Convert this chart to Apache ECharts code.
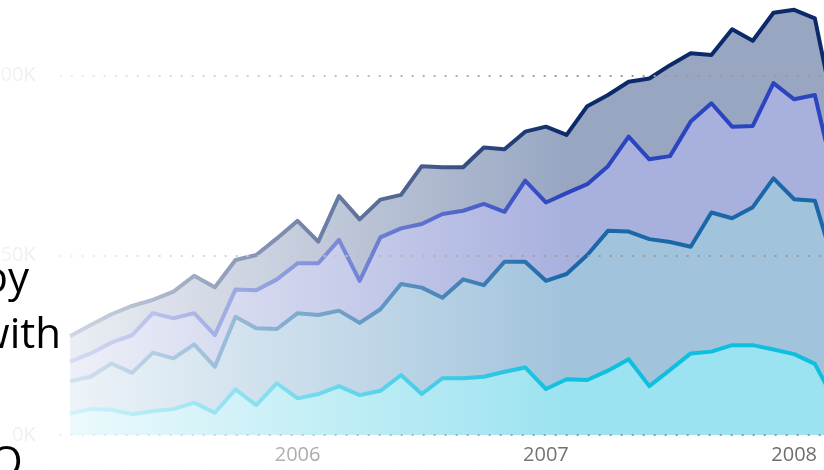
<!DOCTYPE html>
<html>
<head>
<meta charset="utf-8">
<script src="https://cdn.jsdelivr.net/npm/echarts@6/dist/echarts.min.js"></script>
<style>
  html, body { margin: 0; padding: 0; overflow: hidden; background: #fff; }
  #chart { position: absolute; left: 0; top: -110px; width: 900px; height: 600px; }
</style>
</head>
<body>
<div id="chart"></div>
<script>
// months, one point each (Feb 2005 .. Mar 2008)
const months = [
  '2005-02', '2005-03', '2005-04', '2005-05', '2005-06', '2005-07', '2005-08', '2005-09', '2005-10', '2005-11', '2005-12',
  '2006-01', '2006-02', '2006-03', '2006-04', '2006-05', '2006-06', '2006-07', '2006-08', '2006-09', '2006-10', '2006-11', '2006-12',
  '2007-01', '2007-02', '2007-03', '2007-04', '2007-05', '2007-06', '2007-07', '2007-08', '2007-09', '2007-10', '2007-11', '2007-12',
  '2008-01', '2008-02', '2008-03'
]
// values in thousands
const topSeries = [27.5, 30.6, 33.6, 35.9, 37.6, 39.9, 44.3, 41.1, 48.7, 50.1, 54.7, 59.6, 53.8, 66.5, 60.0, 65.5, 66.8, 74.8, 74.5, 74.5, 80.0, 79.5, 84.4, 85.8, 83.5, 91.5, 94.6, 98.3, 99.2, 102.9, 106.2, 105.7, 112.9, 109.7, 117.5, 118.3, 115.9, 88]
const secondSeries = [20.4, 22.7, 25.7, 27.8, 33.9, 32.5, 33.9, 27.8, 40.5, 40.3, 43.3, 47.8, 47.8, 54.3, 42.9, 55.0, 57.5, 58.7, 61.5, 62.4, 64.3, 62.1, 70.8, 64.7, 67.3, 69.8, 74.8, 83.0, 76.7, 77.6, 87.2, 92.3, 85.8, 86.0, 97.9, 93.4, 94.6, 70]
const thirdSeries = [15.0, 16.2, 19.9, 17.3, 22.9, 21.3, 25.2, 19.0, 32.9, 29.7, 29.5, 33.9, 33.4, 34.6, 31.2, 35.0, 42.0, 41.0, 38.2, 43.3, 41.7, 48.2, 48.2, 42.9, 44.8, 50.1, 56.8, 56.6, 54.5, 53.7, 52.4, 61.9, 60.3, 63.4, 71.4, 65.6, 65.2, 46]
const bottomSeries = [6.0, 7.2, 7.0, 5.8, 6.7, 7.2, 9.0, 6.2, 12.7, 8.3, 14.4, 10.2, 11.4, 13.6, 11.1, 12.3, 16.7, 11.4, 15.8, 15.8, 16.2, 17.6, 18.8, 12.8, 15.5, 15.3, 17.9, 21.1, 13.6, 18.1, 22.7, 23.2, 25.0, 25.0, 23.8, 22.5, 19.8, 9]
const yTicks = [0, 50, 100, 150]

const font = '"Open Sans", "Noto Sans", sans-serif'

const chart = echarts.init(document.getElementById('chart'), null, { renderer: 'canvas' })

// 每条线：颜色 + 不透明面积（后画的盖住前面的）
function makeSeries(name, data, lineColor, areaColor) {
  return {
    name,
    type: 'line',
    z: 1,
    data,
    symbol: 'none',
    smooth: false,
    lineStyle: { color: lineColor, width: 4, join: 'round' },
    areaStyle: { color: areaColor, opacity: 1 },
    emphasis: { disabled: true }
  }
}

const option = {
  animation: false,
  grid: {
    left: 59.65,
    right: 900 - 845.9,
    top: 545 - 539.1,
    bottom: 55,
    containLabel: false,
    outerBoundsMode: 'none'
  },
  xAxis: {
    type: 'category',
    boundaryGap: true,
    data: months,
    axisTick: { show: false },
    axisLine: { show: false },
    axisLabel: {
      interval: (idx, val) => val.endsWith('-01'),
      formatter: (val) => val.slice(0, 4),
      color: '#6e6e6e',
      fontSize: 20,
      fontFamily: font,
      margin: 10
    }
  },
  yAxis: {
    type: 'value',
    min: yTicks[0],
    max: yTicks[yTicks.length - 1],
    interval: 50,
    z: 8,
    axisLine: { show: false },
    axisTick: { show: false },
    axisLabel: {
      formatter: (v) => v + 'K',
      color: '#777',
      fontSize: 20,
      fontFamily: font,
      margin: 24
    },
    splitLine: {
      lineStyle: { color: '#9a9a9a', width: 2, type: [2, 9] }
    }
  },
  series: [
    makeSeries('Total', topSeries, '#0c2a6a', '#98a6c2'),
    makeSeries('B', secondSeries, '#2b44bf', '#a8b0de'),
    makeSeries('C', thirdSeries, '#1a68a8', '#a1c3dc'),
    makeSeries('D', bottomSeries, '#0fbfe0', '#9be3f0')
  ],
  graphic: [
    {
      // 左侧白色渐隐
      type: 'rect',
      z: 100,
      silent: true,
      shape: { x: 0, y: 0, width: 600, height: 600 },
      style: {
        fill: new echarts.graphic.LinearGradient(0, 0, 1, 0, [
          { offset: 0, color: 'rgba(255,255,255,0.92)' },
          { offset: 0.95, color: 'rgba(255,255,255,0)' },
          { offset: 1, color: 'rgba(255,255,255,0)' }
        ])
      }
    },
    {
      type: 'text', z: 101, x: 29, y: 390,
      style: { text: 'by', fill: '#000', font: '42px ' + font, align: 'right', verticalAlign: 'middle' }
    },
    {
      type: 'text', z: 101, x: 61, y: 446,
      style: { text: 'with', fill: '#000', font: '42px ' + font, align: 'right', verticalAlign: 'middle' }
    },
    {
      type: 'text', z: 101, x: -10, y: 574,
      style: { text: 'O', fill: '#000', font: '42px ' + font, align: 'left', verticalAlign: 'middle' }
    }
  ]
}

chart.setOption(option)
</script>
</body>
</html>
